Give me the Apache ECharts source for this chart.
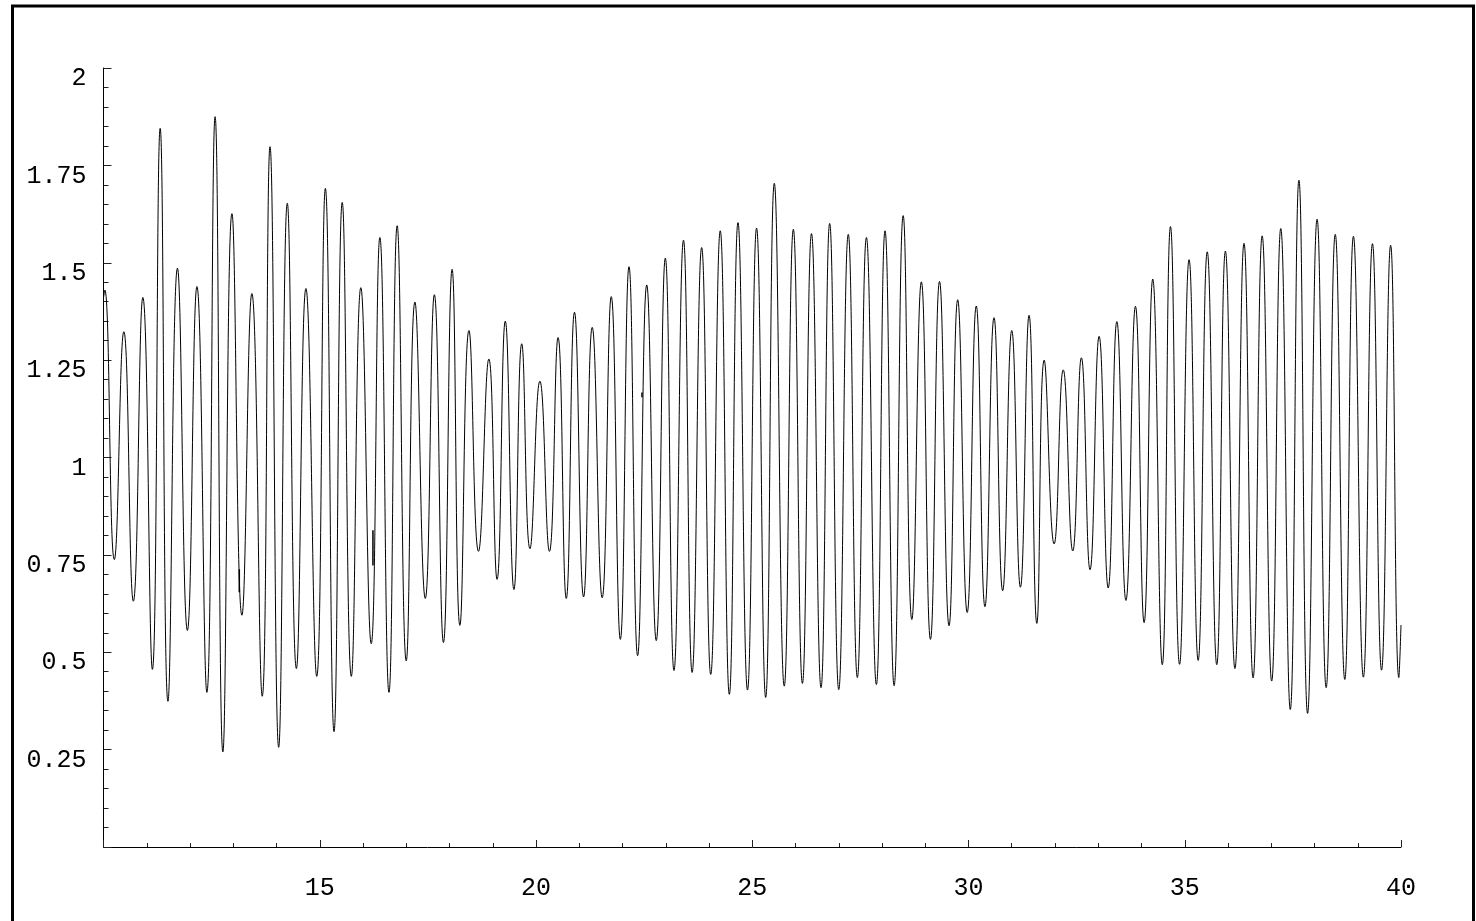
<!DOCTYPE html>
<html>
<head>
<meta charset="utf-8">
<script src="https://cdn.jsdelivr.net/npm/echarts@6.0.0/dist/echarts.min.js"></script>
<style>
  html, body { margin: 0; padding: 0; background: #fff; }
  #main { width: 1476px; height: 921px; }
</style>
</head>
<body>
<div id="main"></div>
<script>
// maxima of the signal (x, y)
const peaksX = [10.03, 10.47, 10.91, 11.31, 11.71, 12.16, 12.58, 12.97, 13.43, 13.85, 14.25, 14.68, 15.13, 15.52, 15.95,
  16.39, 16.79, 17.20, 17.65, 18.06, 18.45, 18.91, 19.29, 19.67, 20.09, 20.51, 20.89, 21.30, 21.74, 22.15,
  22.56, 22.99, 23.41, 23.83, 24.26, 24.67, 25.10, 25.51, 25.95, 26.37, 26.79, 27.22, 27.64, 28.07, 28.49,
  28.91, 29.33, 29.75, 30.18, 30.59, 31.00, 31.40, 31.75, 32.19, 32.61, 33.02, 33.43, 33.86, 34.26, 34.67,
  35.10, 35.52, 35.94, 36.37, 36.79, 37.22, 37.64, 38.06, 38.48, 38.90, 39.34, 39.76];
const peaksY = [1.43, 1.323, 1.411, 1.845, 1.486, 1.439, 1.875, 1.626, 1.421, 1.798, 1.653, 1.434, 1.691, 1.655, 1.436,
  1.565, 1.595, 1.399, 1.418, 1.483, 1.326, 1.253, 1.350, 1.292, 1.196, 1.308, 1.373, 1.334, 1.413, 1.490,
  1.443, 1.512, 1.558, 1.539, 1.582, 1.603, 1.589, 1.704, 1.586, 1.575, 1.601, 1.573, 1.565, 1.582, 1.621,
  1.451, 1.452, 1.405, 1.389, 1.359, 1.326, 1.365, 1.250, 1.225, 1.256, 1.311, 1.349, 1.388, 1.458, 1.593,
  1.508, 1.528, 1.530, 1.550, 1.569, 1.588, 1.712, 1.612, 1.573, 1.568, 1.549, 1.545];

// minima of the signal (x, y)
const troughsX = [10.25, 10.69, 11.13, 11.49, 11.94, 12.39, 12.76, 13.20, 13.67, 14.05, 14.46, 14.93, 15.33, 15.73,
  16.19, 16.60, 17.00, 17.44, 17.86, 18.24, 18.67, 19.10, 19.49, 19.86, 20.31, 20.70, 21.10, 21.53, 21.95,
  22.35, 22.78, 23.19, 23.61, 24.04, 24.47, 24.89, 25.31, 25.74, 26.16, 26.59, 27.00, 27.43, 27.87, 28.28,
  28.69, 29.12, 29.55, 29.97, 30.38, 30.79, 31.20, 31.58, 31.98, 32.41, 32.81, 33.23, 33.64, 34.06, 34.48,
  34.88, 35.31, 35.74, 36.16, 36.58, 37.01, 37.44, 37.84, 38.27, 38.70, 39.13, 39.55, 39.95];
const troughsY = [0.738, 0.631, 0.456, 0.374, 0.556, 0.397, 0.244, 0.595, 0.387, 0.256, 0.458, 0.438, 0.296, 0.438,
  0.522, 0.397, 0.478, 0.638, 0.525, 0.569, 0.759, 0.687, 0.661, 0.766, 0.759, 0.638, 0.642, 0.640, 0.533,
  0.491, 0.530, 0.453, 0.448, 0.443, 0.392, 0.403, 0.384, 0.413, 0.420, 0.409, 0.404, 0.435, 0.417, 0.414,
  0.584, 0.533, 0.568, 0.602, 0.617, 0.658, 0.667, 0.574, 0.778, 0.760, 0.712, 0.665, 0.633, 0.576, 0.468,
  0.469, 0.479, 0.468, 0.458, 0.434, 0.426, 0.353, 0.343, 0.409, 0.430, 0.436, 0.454, 0.435];

const startPoint = [10, 1.41];
const endPoint = [40, 0.57];

// short stray vertical strokes left in the original plot
const strayX = [13.14, 16.23, 22.45];
const strayLow = [0.654, 0.723, 1.155];
const strayHigh = [0.713, 0.813, 1.167];

const xTicks = { min: 10, max: 40, step: 5 };
const yTicks = { min: 0, max: 2, step: 0.25 };

document.addEventListener("DOMContentLoaded", function () {
  const chart = echarts.init(document.getElementById("main"), null, { renderer: "canvas" });

  // merge maxima and minima into one curve, ordered by x
  let points = [startPoint, endPoint];
  peaksX.forEach((x, i) => points.push([x, peaksY[i]]));
  troughsX.forEach((x, i) => points.push([x, troughsY[i]]));
  points.sort((a, b) => a[0] - b[0]);

  const font = "Liberation Mono";

  const strokeSeries = strayX.map((x, i) => ({
    type: "line",
    data: [[x, strayLow[i]], [x, strayHigh[i]]],
    showSymbol: false,
    lineStyle: { color: "#000", width: 1.5 },
  }));

  const option = {
    animation: false,
    backgroundColor: "#fff",
    grid: { left: 103.5, right: 75, top: 68, bottom: 74, containLabel: false },
    xAxis: {
      type: "value",
      min: xTicks.min,
      max: xTicks.max,
      interval: xTicks.step,
      axisLine: { onZero: false, lineStyle: { color: "#000", width: 1 } },
      axisTick: { inside: true, length: 7, lineStyle: { color: "#222" } },
      minorTick: { show: true, splitNumber: 5, length: 4, lineStyle: { color: "#222" } },
      splitLine: { show: false },
      axisLabel: {
        margin: 29,
        color: "#000",
        fontFamily: font,
        fontSize: 25,
        formatter: (v) => (v === xTicks.min ? "" : String(v)),
      },
    },
    yAxis: {
      type: "value",
      min: yTicks.min,
      max: yTicks.max,
      interval: yTicks.step,
      axisLine: { show: true, onZero: false, lineStyle: { color: "#000", width: 1 } },
      axisTick: { show: true, inside: true, length: 8, lineStyle: { color: "#222" } },
      minorTick: { show: true, splitNumber: 5, length: 5, lineStyle: { color: "#222" } },
      splitLine: { show: false },
      axisLabel: {
        margin: 17,
        color: "#000",
        fontFamily: font,
        fontSize: 25,
        verticalAlign: "top",
        lineHeight: 21,
        formatter: (v) => (v === yTicks.min ? "" : String(v)),
      },
    },
    graphic: [
      {
        type: "rect",
        shape: { x: 12.5, y: 6, width: 1461, height: 1000 },
        style: { fill: "none", stroke: "#000", lineWidth: 3 },
        silent: true,
      },
    ],
    series: [
      {
        type: "line",
        data: points,
        showSymbol: false,
        smooth: 0.5,
        lineStyle: { color: "#000", width: 1 },
      },
    ].concat(strokeSeries),
  };

  chart.setOption(option);
});
</script>
</body>
</html>
